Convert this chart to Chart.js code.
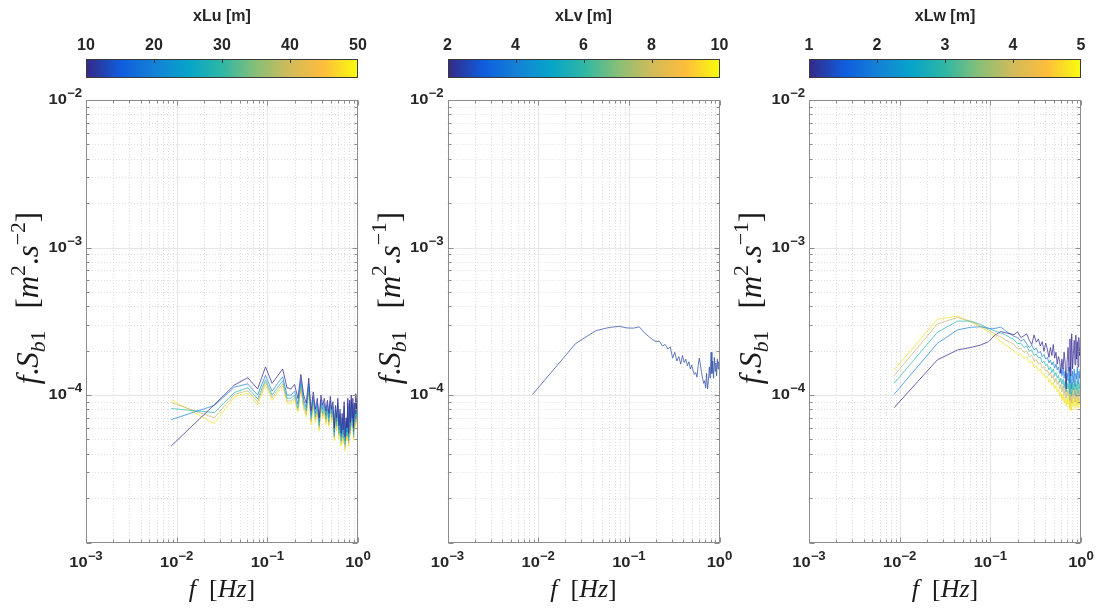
<!DOCTYPE html>
<html>
<head>
<meta charset="utf-8">
<script src="https://cdn.jsdelivr.net/npm/chart.js@4.4.1/dist/chart.umd.min.js"></script>
<style>
html,body{margin:0;padding:0;background:#fff;}
#wrap{position:relative;width:1100px;height:613px;overflow:hidden;background:#fff;}
#wrap canvas{position:absolute;left:0;top:0;}
.cb{position:absolute;height:19px;box-sizing:border-box;border:1px solid #3a3a3a;}
.cbtick{position:absolute;top:0;width:1px;height:3px;background:#333;}
.cbl{position:absolute;font:bold 16px "Liberation Sans",Arial,sans-serif;color:#262626;transform:translateX(-50%);white-space:nowrap;line-height:16px;}
.cbt{position:absolute;font:bold 16px "Liberation Sans",Arial,sans-serif;color:#262626;transform:translateX(-50%);white-space:nowrap;line-height:16px;}
</style>
</head>
<body>
<div id="wrap">
<canvas id="c0" width="1100" height="613"></canvas>
<canvas id="c1" width="1100" height="613"></canvas>
<canvas id="c2" width="1100" height="613"></canvas>
</div>
<script>
// ---------------- DATA ----------------
const freqs = [0.00868,0.02604,0.04340,0.06076,0.07813,0.09549,0.1128,0.1302,0.1476,0.1649,
0.1823,0.1997,0.2170,0.2344,0.2517,0.2691,0.2865,0.3038,0.3212,0.3385,
0.3559,0.3733,0.3906,0.4080,0.4253,0.4427,0.4601,0.4774,0.4948,0.5122,
0.5295,0.5469,0.5642,0.5816,0.5990,0.6163,0.6337,0.6510,0.6684,0.6858,
0.7031,0.7205,0.7378,0.7552,0.7726,0.7899,0.8073,0.8247,0.8420,0.8594,
0.8767,0.8941,0.9115,0.9288,0.9462,0.9635,0.9809,0.9983];

// Panel 1 : u component, xLu = 10,20,30,40,50 m
const u_xL10 = [0.45e-4,0.86e-4,1.17e-4,1.31e-4,1.10e-4,1.55e-4,1.20e-4,1.35e-4,1.50e-4,1.12e-4,1.10e-4,1.18e-4,0.95e-4,1.38e-4,1.00e-4,0.88e-4,1.30e-4,0.78e-4,1.05e-4,0.80e-4,0.95e-4,0.70e-4,1.00e-4,0.85e-4,0.95e-4,0.78e-4,0.92e-4,0.75e-4,0.98e-4,0.80e-4,0.90e-4,0.60e-4,0.85e-4,0.70e-4,0.95e-4,0.62e-4,0.80e-4,0.55e-4,0.75e-4,0.58e-4,0.90e-4,0.52e-4,0.70e-4,0.60e-4,0.95e-4,0.55e-4,0.92e-4,0.65e-4,1.00e-4,0.70e-4,0.95e-4,0.60e-4,0.88e-4,0.75e-4,1.02e-4,0.80e-4,0.90e-4,1.05e-4];
const u_xL20 = [0.68e-4,0.85e-4,1.13e-4,1.19e-4,1.00e-4,1.36e-4,1.06e-4,1.20e-4,1.33e-4,1.00e-4,1.00e-4,1.06e-4,0.87e-4,1.27e-4,0.93e-4,0.82e-4,1.20e-4,0.73e-4,0.98e-4,0.75e-4,0.88e-4,0.66e-4,0.93e-4,0.80e-4,0.88e-4,0.73e-4,0.86e-4,0.70e-4,0.91e-4,0.75e-4,0.84e-4,0.56e-4,0.80e-4,0.66e-4,0.88e-4,0.58e-4,0.75e-4,0.52e-4,0.70e-4,0.54e-4,0.84e-4,0.49e-4,0.66e-4,0.56e-4,0.88e-4,0.52e-4,0.86e-4,0.61e-4,0.93e-4,0.66e-4,0.88e-4,0.56e-4,0.82e-4,0.70e-4,0.95e-4,0.75e-4,0.84e-4,0.98e-4];
const u_xL30 = [0.81e-4,0.76e-4,1.04e-4,1.12e-4,0.94e-4,1.27e-4,1.00e-4,1.13e-4,1.25e-4,0.95e-4,0.95e-4,1.00e-4,0.82e-4,1.20e-4,0.88e-4,0.78e-4,1.13e-4,0.69e-4,0.93e-4,0.71e-4,0.84e-4,0.62e-4,0.88e-4,0.75e-4,0.84e-4,0.69e-4,0.81e-4,0.66e-4,0.86e-4,0.71e-4,0.79e-4,0.53e-4,0.75e-4,0.62e-4,0.84e-4,0.55e-4,0.71e-4,0.49e-4,0.66e-4,0.51e-4,0.79e-4,0.46e-4,0.62e-4,0.53e-4,0.84e-4,0.49e-4,0.81e-4,0.57e-4,0.88e-4,0.62e-4,0.84e-4,0.53e-4,0.77e-4,0.66e-4,0.90e-4,0.71e-4,0.79e-4,0.92e-4];
const u_xL40 = [0.89e-4,0.70e-4,1.01e-4,1.07e-4,0.90e-4,1.22e-4,0.96e-4,1.08e-4,1.19e-4,0.91e-4,0.91e-4,0.96e-4,0.79e-4,1.14e-4,0.84e-4,0.74e-4,1.08e-4,0.66e-4,0.88e-4,0.68e-4,0.80e-4,0.60e-4,0.85e-4,0.72e-4,0.80e-4,0.66e-4,0.78e-4,0.63e-4,0.83e-4,0.68e-4,0.76e-4,0.51e-4,0.72e-4,0.60e-4,0.80e-4,0.53e-4,0.68e-4,0.47e-4,0.63e-4,0.49e-4,0.76e-4,0.44e-4,0.60e-4,0.51e-4,0.80e-4,0.47e-4,0.78e-4,0.55e-4,0.85e-4,0.60e-4,0.80e-4,0.51e-4,0.74e-4,0.63e-4,0.86e-4,0.68e-4,0.76e-4,0.88e-4];
const u_xL50 = [0.93e-4,0.64e-4,0.97e-4,1.03e-4,0.86e-4,1.17e-4,0.92e-4,1.04e-4,1.15e-4,0.88e-4,0.88e-4,0.93e-4,0.76e-4,1.10e-4,0.80e-4,0.71e-4,1.04e-4,0.63e-4,0.85e-4,0.65e-4,0.77e-4,0.57e-4,0.81e-4,0.69e-4,0.77e-4,0.63e-4,0.75e-4,0.61e-4,0.79e-4,0.65e-4,0.73e-4,0.49e-4,0.69e-4,0.57e-4,0.77e-4,0.50e-4,0.65e-4,0.45e-4,0.61e-4,0.47e-4,0.73e-4,0.42e-4,0.57e-4,0.49e-4,0.77e-4,0.45e-4,0.75e-4,0.53e-4,0.81e-4,0.57e-4,0.77e-4,0.49e-4,0.71e-4,0.61e-4,0.83e-4,0.65e-4,0.73e-4,0.85e-4];

// Panel 2 : v component, single xLv
const v_xL = [1.01e-4,2.24e-4,2.73e-4,2.87e-4,2.92e-4,2.85e-4,2.84e-4,2.90e-4,2.65e-4,2.50e-4,2.38e-4,2.30e-4,2.32e-4,2.15e-4,2.20e-4,2.05e-4,2.12e-4,1.78e-4,1.95e-4,1.70e-4,1.82e-4,1.62e-4,1.85e-4,1.66e-4,1.75e-4,1.58e-4,1.68e-4,1.50e-4,1.60e-4,1.45e-4,1.38e-4,1.42e-4,1.32e-4,1.58e-4,1.78e-4,1.60e-4,1.42e-4,1.30e-4,1.20e-4,1.25e-4,1.12e-4,1.40e-4,1.10e-4,1.25e-4,1.55e-4,1.30e-4,1.95e-4,1.40e-4,1.70e-4,1.30e-4,1.80e-4,1.45e-4,1.65e-4,1.35e-4,1.75e-4,1.50e-4,1.68e-4,1.55e-4];

// Panel 3 : w component, xLw = 1,2,3,4,5 m
const w_xL1 = [0.82e-4,1.73e-4,2.02e-4,2.10e-4,2.18e-4,2.30e-4,2.55e-4,2.69e-4,2.64e-4,2.60e-4,2.56e-4,2.68e-4,2.45e-4,2.52e-4,2.60e-4,2.35e-4,2.20e-4,2.55e-4,2.28e-4,2.40e-4,2.15e-4,2.30e-4,1.98e-4,2.25e-4,2.05e-4,1.80e-4,2.10e-4,1.85e-4,2.20e-4,1.78e-4,1.95e-4,1.62e-4,1.82e-4,1.70e-4,1.40e-4,1.75e-4,1.50e-4,1.95e-4,1.65e-4,1.10e-4,1.70e-4,2.10e-4,1.45e-4,2.40e-4,1.35e-4,2.60e-4,1.50e-4,1.90e-4,2.35e-4,1.60e-4,2.55e-4,1.75e-4,2.30e-4,1.55e-4,2.45e-4,1.85e-4,2.10e-4,2.20e-4];
const w_xL2 = [1.01e-4,2.24e-4,2.76e-4,2.88e-4,2.90e-4,2.83e-4,2.83e-4,2.88e-4,2.72e-4,2.60e-4,2.50e-4,2.45e-4,2.32e-4,2.38e-4,2.22e-4,2.10e-4,2.18e-4,2.02e-4,2.08e-4,1.92e-4,1.98e-4,1.82e-4,1.88e-4,1.75e-4,1.80e-4,1.65e-4,1.72e-4,1.60e-4,1.68e-4,1.52e-4,1.62e-4,1.48e-4,1.55e-4,1.40e-4,1.50e-4,1.35e-4,1.52e-4,1.30e-4,1.45e-4,1.18e-4,1.40e-4,1.25e-4,1.55e-4,1.20e-4,1.38e-4,1.10e-4,1.45e-4,1.22e-4,1.50e-4,1.15e-4,1.40e-4,1.28e-4,1.55e-4,1.20e-4,1.45e-4,1.30e-4,1.50e-4,1.35e-4];
const w_xL3 = [1.20e-4,2.66e-4,3.17e-4,3.17e-4,3.01e-4,2.83e-4,2.71e-4,2.64e-4,2.55e-4,2.45e-4,2.38e-4,2.22e-4,2.25e-4,2.10e-4,2.15e-4,1.98e-4,2.02e-4,1.85e-4,1.90e-4,1.78e-4,1.80e-4,1.65e-4,1.70e-4,1.58e-4,1.62e-4,1.48e-4,1.55e-4,1.42e-4,1.50e-4,1.35e-4,1.42e-4,1.30e-4,1.36e-4,1.22e-4,1.30e-4,1.18e-4,1.28e-4,1.12e-4,1.25e-4,1.05e-4,1.20e-4,1.10e-4,1.28e-4,1.02e-4,1.18e-4,0.98e-4,1.22e-4,1.08e-4,1.25e-4,1.00e-4,1.18e-4,1.08e-4,1.25e-4,1.02e-4,1.20e-4,1.10e-4,1.22e-4,1.15e-4];
const w_xL4 = [1.35e-4,3.03e-4,3.36e-4,3.14e-4,2.94e-4,2.76e-4,2.58e-4,2.48e-4,2.36e-4,2.28e-4,2.20e-4,2.05e-4,2.08e-4,1.95e-4,1.98e-4,1.82e-4,1.86e-4,1.70e-4,1.74e-4,1.62e-4,1.66e-4,1.52e-4,1.56e-4,1.45e-4,1.48e-4,1.36e-4,1.42e-4,1.30e-4,1.36e-4,1.22e-4,1.30e-4,1.18e-4,1.24e-4,1.10e-4,1.18e-4,1.05e-4,1.15e-4,1.00e-4,1.12e-4,0.95e-4,1.08e-4,0.98e-4,1.15e-4,0.92e-4,1.05e-4,0.88e-4,1.10e-4,0.96e-4,1.12e-4,0.90e-4,1.06e-4,0.96e-4,1.12e-4,0.92e-4,1.08e-4,0.98e-4,1.10e-4,1.02e-4];
const w_xL5 = [1.48e-4,3.26e-4,3.43e-4,3.14e-4,2.88e-4,2.69e-4,2.48e-4,2.30e-4,2.18e-4,2.08e-4,2.00e-4,1.88e-4,1.90e-4,1.78e-4,1.80e-4,1.66e-4,1.70e-4,1.55e-4,1.58e-4,1.46e-4,1.50e-4,1.38e-4,1.40e-4,1.30e-4,1.34e-4,1.22e-4,1.28e-4,1.16e-4,1.22e-4,1.10e-4,1.16e-4,1.05e-4,1.10e-4,0.98e-4,1.05e-4,0.92e-4,1.02e-4,0.88e-4,0.98e-4,0.84e-4,0.95e-4,0.86e-4,1.00e-4,0.80e-4,0.92e-4,0.78e-4,0.96e-4,0.84e-4,0.98e-4,0.80e-4,0.94e-4,0.85e-4,0.98e-4,0.82e-4,0.95e-4,0.86e-4,0.97e-4,0.90e-4];

// ticks / labels
const xTickExps = [-3,-2,-1,0];
const yTickExps = [-4,-3,-2];
const cbTicksU = [10,20,30,40,50];
const cbTicksV = [2,4,6,8,10];
const cbTicksW = [1,2,3,4,5];
const cbTitles = ['xLu [m]','xLv [m]','xLw [m]'];
const yUnitExps = ['\u22122','\u22121','\u22121'];
const lineColors5 = ['#3a2e96','#2a86dc','#33bab2','#cdb877','#f3e42a'];
const lineColorV = '#3352a8';
const parulaStops = ['#352a87 0%','#0f5cdd 12.5%','#1481d6 25%','#06a4ca 37.5%','#2eb7a4 50%','#87bf77 62.5%','#d1bb59 75%','#fdbd3c 87.5%','#f9fb0e 100%'];

// ---------------- LAYOUT ----------------
const panelLeft = [86, 447.5, 809];
const panelW = 272;
const plotTop = 100, plotBottom = 542.5;

const TXT = '#262626';
const SANS = '"Liberation Sans", Arial, sans-serif';
const SERIF = '"Liberation Serif", "Times New Roman", serif';
const STRETCH = 1.1;

function drawPow(ctx, exp, x, y, align) {
  const base = '10', ex = (exp < 0 ? '\u2212' : '') + Math.abs(exp);
  ctx.font = 'bold 15px ' + SANS;
  const wb = ctx.measureText(base).width;
  ctx.font = 'bold 12px ' + SANS;
  const we = ctx.measureText(ex).width;
  const w = (wb + we) * STRETCH;
  let x0 = align === 'right' ? x - w : x - w / 2;
  ctx.save();
  ctx.translate(x0, y);
  ctx.scale(STRETCH, 1);
  ctx.fillStyle = TXT;
  ctx.textBaseline = 'middle';
  ctx.textAlign = 'left';
  ctx.font = 'bold 15px ' + SANS;
  ctx.fillText(base, 0, 0);
  ctx.font = 'bold 12px ' + SANS;
  ctx.fillText(ex, wb, -6);
  ctx.restore();
}

function segFont(s, size) {
  const sz = s.s ? size * 0.7 : size;
  return (s.it ? 'italic ' : '') + sz + 'px ' + SERIF;
}
function richWidth(ctx, segs, size) {
  let w = 0;
  for (const s of segs) {
    if (s.g) { w += s.g; continue; }
    ctx.font = segFont(s, size);
    w += ctx.measureText(s.t).width;
  }
  return w;
}
function drawRich(ctx, segs, size, x0, y0) {
  let x = x0;
  ctx.textBaseline = 'alphabetic';
  ctx.textAlign = 'left';
  for (const s of segs) {
    if (s.g) { x += s.g; continue; }
    ctx.font = segFont(s, size);
    const dy = s.s === 1 ? -size * 0.42 : (s.s === -1 ? size * 0.22 : 0);
    ctx.fillText(s.t, x, y0 + dy);
    x += ctx.measureText(s.t).width;
  }
}

function xTitleSegs() {
  return [{t:'f',it:1},{g:13},{t:'['},{t:'H',it:1},{t:'z',it:1},{t:']'}];
}
function yTitleSegs(e) {
  return [{t:'f',it:1},{t:'.'},{t:'S',it:1},{t:'b',it:1,s:-1},{t:'1',s:-1},{g:22},
          {t:'['},{t:'m',it:1},{t:'2',s:1},{t:'.'},{t:'s',it:1},{t:e,s:1},{t:']'}];
}

function makeAxesPlugin(pi) {
  return {
    id: 'mlaxes' + pi,
    beforeDatasetsDraw(chart) {
      const ctx = chart.ctx, a = chart.chartArea;
      const xs = chart.scales.x, ys = chart.scales.y;
      ctx.save();
      ctx.strokeStyle = '#dedede';
      ctx.lineWidth = 1;
      ctx.setLineDash([1, 2]);
      ctx.beginPath();
      for (let e = -3; e <= -1; e++) for (let m = 2; m <= 9; m++) {
        const px = Math.round(xs.getPixelForValue(m * Math.pow(10, e))) + 0.5;
        ctx.moveTo(px, a.top); ctx.lineTo(px, a.bottom);
      }
      for (let e = -5; e <= -3; e++) for (let m = 2; m <= 9; m++) {
        const py = Math.round(ys.getPixelForValue(m * Math.pow(10, e))) + 0.5;
        ctx.moveTo(a.left, py); ctx.lineTo(a.right, py);
      }
      ctx.stroke();
      ctx.setLineDash([]);
      ctx.strokeStyle = '#e6e6e6';
      ctx.beginPath();
      for (const e of [-2, -1]) {
        const px = Math.round(xs.getPixelForValue(Math.pow(10, e))) + 0.5;
        ctx.moveTo(px, a.top); ctx.lineTo(px, a.bottom);
      }
      for (const e of [-4, -3]) {
        const py = Math.round(ys.getPixelForValue(Math.pow(10, e))) + 0.5;
        ctx.moveTo(a.left, py); ctx.lineTo(a.right, py);
      }
      ctx.stroke();
      ctx.restore();
    },
    afterDatasetsDraw(chart) {
      const ctx = chart.ctx, a = chart.chartArea;
      const xs = chart.scales.x, ys = chart.scales.y;
      ctx.save();
      ctx.strokeStyle = '#8c8c8c';
      ctx.lineWidth = 1;
      const L = Math.round(a.left) + 0.5, R = Math.round(a.right) - 0.5;
      const T = Math.round(a.top) + 0.5, B = Math.round(a.bottom) - 0.5;
      ctx.strokeRect(L, T, R - L, B - T);
      ctx.beginPath();
      for (let e = -3; e <= 0; e++) for (let m = 1; m <= 9; m++) {
        const v = m * Math.pow(10, e);
        if (v > 1.0001) continue;
        const px = Math.round(xs.getPixelForValue(v)) + 0.5;
        const len = m === 1 ? 5 : 3;
        ctx.moveTo(px, B); ctx.lineTo(px, B - len);
        ctx.moveTo(px, T); ctx.lineTo(px, T + len);
      }
      for (let e = -5; e <= -2; e++) for (let m = 1; m <= 9; m++) {
        const v = m * Math.pow(10, e);
        if (v > 1.0001e-2) continue;
        const py = Math.round(ys.getPixelForValue(v)) + 0.5;
        const len = m === 1 ? 5 : 3;
        ctx.moveTo(L, py); ctx.lineTo(L + len, py);
        ctx.moveTo(R, py); ctx.lineTo(R - len, py);
      }
      ctx.stroke();
      for (const e of xTickExps) drawPow(ctx, e, xs.getPixelForValue(Math.pow(10, e)), a.bottom + 20, 'center');
      for (const e of yTickExps) drawPow(ctx, e, a.left - 4, ys.getPixelForValue(Math.pow(10, e)), 'right');
      ctx.fillStyle = '#1a1a1a';
      const xs1 = xTitleSegs();
      const wx = richWidth(ctx, xs1, 26);
      drawRich(ctx, xs1, 26, (a.left + a.right) / 2 - wx / 2, 597);
      const ys1 = yTitleSegs(yUnitExps[pi]);
      const wy = richWidth(ctx, ys1, 31);
      ctx.translate(a.left - 48, 298);
      ctx.rotate(-Math.PI / 2);
      drawRich(ctx, ys1, 31, -wy / 2, 0);
      ctx.restore();
    }
  };
}

function makeDatasets(seriesList, colors) {
  return seriesList.map((s, i) => ({
    data: freqs.map((f, k) => ({x: f, y: s[k]})),
    borderColor: colors[i],
    borderWidth: 0.75,
    pointRadius: 0,
    fill: false,
    tension: 0
  }));
}

const panels = [
  {series: [u_xL10, u_xL20, u_xL30, u_xL40, u_xL50], colors: lineColors5, cb: cbTicksU},
  {series: [v_xL], colors: [lineColorV], cb: cbTicksV},
  {series: [w_xL1, w_xL2, w_xL3, w_xL4, w_xL5], colors: lineColors5, cb: cbTicksW}
];

panels.forEach((p, pi) => {
  const left = panelLeft[pi], right = left + panelW;
  new Chart(document.getElementById('c' + pi), {
    type: 'line',
    data: {datasets: makeDatasets(p.series, p.colors)},
    options: {
      responsive: false, animation: false, devicePixelRatio: 1,
      layout: {padding: {left: left, right: 1100 - right, top: plotTop, bottom: 613 - plotBottom}},
      plugins: {legend: {display: false}, tooltip: {enabled: false}},
      events: [],
      scales: {
        x: {type: 'logarithmic', min: 1e-3, max: 1, display: false},
        y: {type: 'logarithmic', min: 1e-5, max: 1e-2, display: false}
      }
    },
    plugins: [makeAxesPlugin(pi)]
  });

  const wrap = document.getElementById('wrap');
  const bar = document.createElement('div');
  bar.className = 'cb';
  bar.style.left = left + 'px';
  bar.style.top = '59px';
  bar.style.width = panelW + 'px';
  bar.style.background = 'linear-gradient(to right,' + parulaStops.join(',') + ')';
  wrap.appendChild(bar);
  const t0 = p.cb[0], t1 = p.cb[p.cb.length - 1];
  p.cb.forEach((t, i) => {
    const fx = (t - t0) / (t1 - t0) * panelW;
    if (i > 0 && i < p.cb.length - 1) {
      const tk = document.createElement('div');
      tk.className = 'cbtick';
      tk.style.left = (fx - 1) + 'px';
      bar.appendChild(tk);
    }
    const lab = document.createElement('div');
    lab.className = 'cbl';
    lab.textContent = String(t);
    lab.style.left = (left + fx) + 'px';
    lab.style.top = '37px';
    wrap.appendChild(lab);
  });
  const ttl = document.createElement('div');
  ttl.className = 'cbt';
  ttl.textContent = cbTitles[pi];
  ttl.style.left = (left + panelW / 2) + 'px';
  ttl.style.top = '8px';
  wrap.appendChild(ttl);
});
</script>
</body>
</html>
